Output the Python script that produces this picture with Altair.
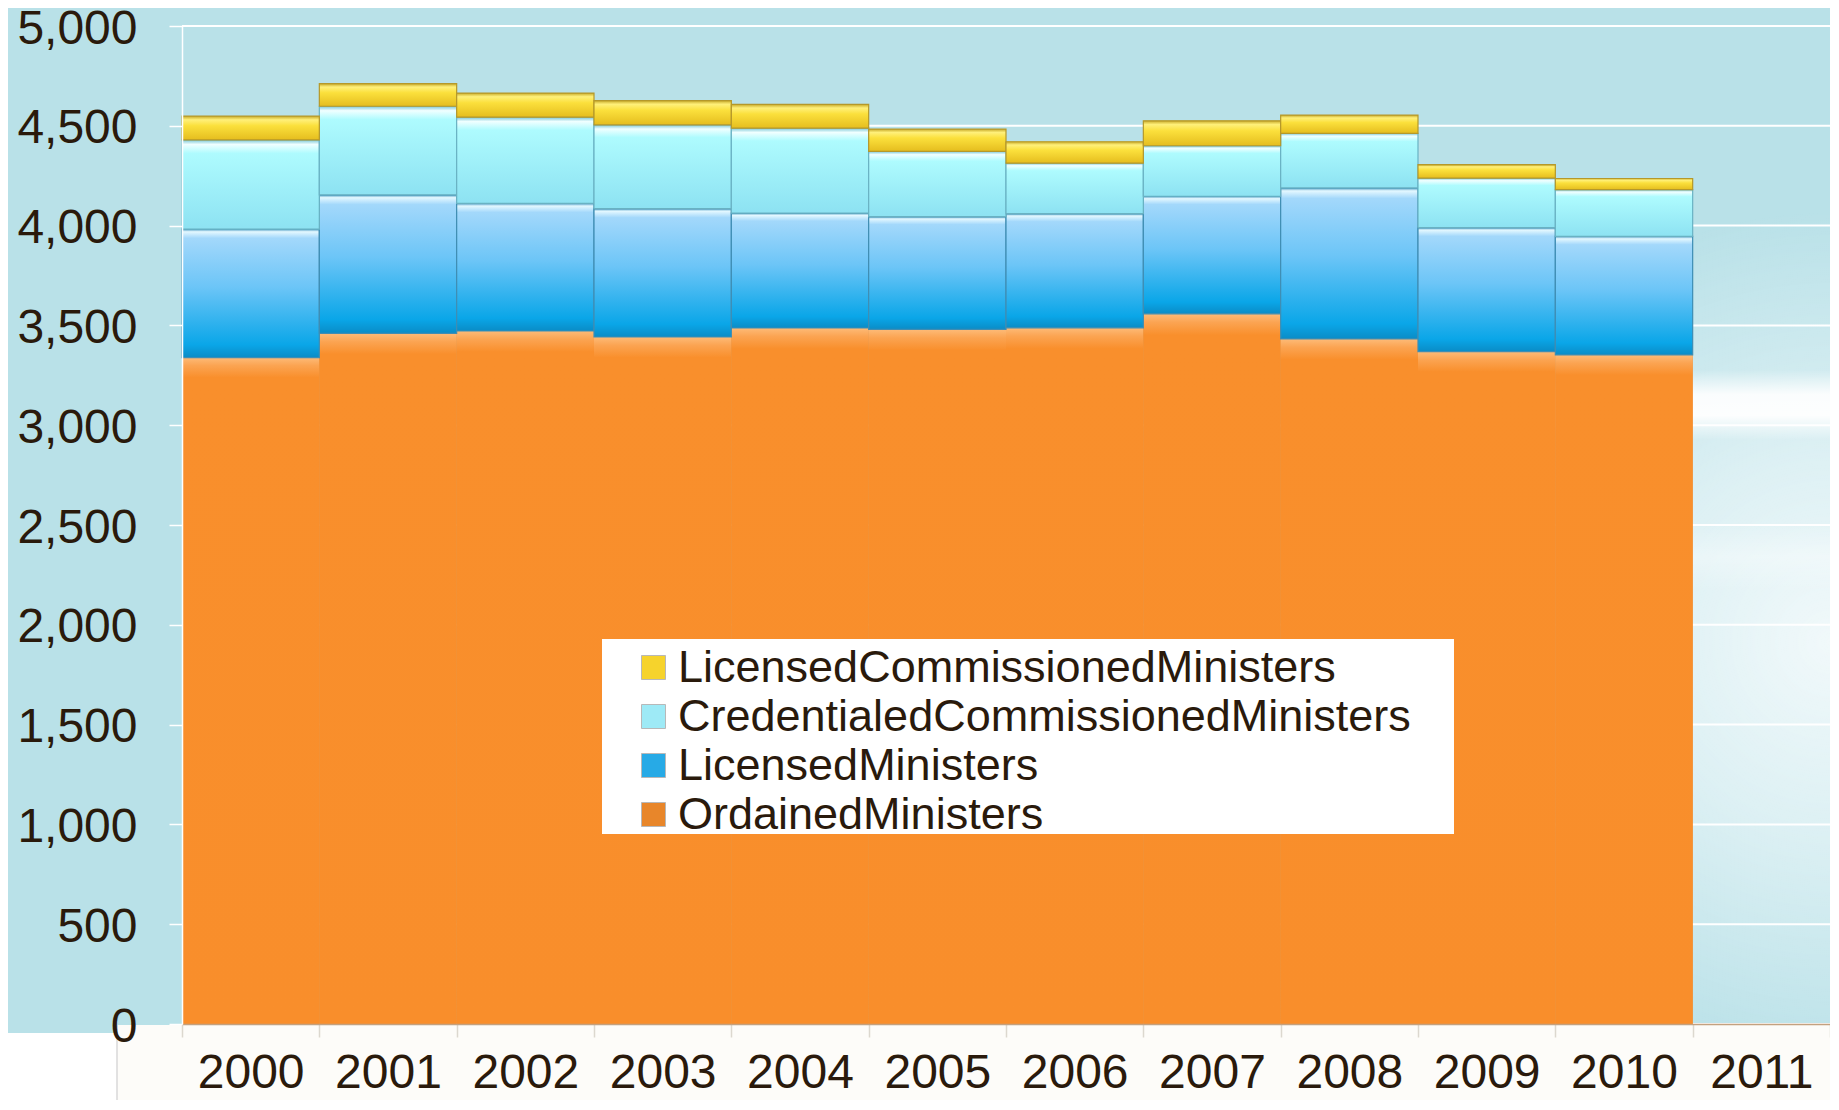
import altair as alt
import pandas as pd

# ---------------- data ----------------
years = ["2000", "2001", "2002", "2003", "2004", "2005",
         "2006", "2007", "2008", "2009", "2010", "2011"]
data_years = ["2000", "2001", "2002", "2003", "2004", "2005",
              "2006", "2007", "2008", "2009", "2010"]
ordained = [3339, 3460, 3472, 3442, 3487, 3480, 3488, 3558, 3432, 3369, 3352]
licensed = [643, 694, 639, 643, 576, 565, 572, 589, 757, 621, 594]
credentialed = [447, 444, 432, 420, 425, 327, 253, 253, 273, 248, 234]
lic_commissioned = [119, 113, 121, 121, 119, 111, 107, 125, 91, 67, 56]
series = ["LicensedCommissionedMinisters", "CredentialedCommissionedMinisters",
          "LicensedMinisters", "OrdainedMinisters"]
y_ticks = [0, 500, 1000, 1500, 2000, 2500, 3000, 3500, 4000, 4500, 5000]

values_by_series = {
    "OrdainedMinisters": ordained,
    "LicensedMinisters": licensed,
    "CredentialedCommissionedMinisters": credentialed,
    "LicensedCommissionedMinisters": lic_commissioned,
}
stack_order = {"OrdainedMinisters": 0, "LicensedMinisters": 1,
               "CredentialedCommissionedMinisters": 2, "LicensedCommissionedMinisters": 3}

rows = []
for i, yr in enumerate(data_years):
    for s in series:
        rows.append({"year": yr, "series": s, "value": values_by_series[s][i],
                     "order": stack_order[s]})
df = pd.DataFrame(rows)
ticks_df = pd.DataFrame({"v": y_ticks})
one = pd.DataFrame({"a": [0]})

# ---------------- styling ----------------
W, H = 1648, 998
FONT = "Liberation Sans"
TEXT = "#2a1a0c"
BG = "#b9e1e8"

x_axis = alt.Axis(title=None, labelFontSize=48, labelFont=FONT, labelColor=TEXT,
                  labelPadding=12, tickBand="extent", tickColor="#dcd8cf", tickSize=13,
                  tickWidth=1.5, domainColor="#c4a17f", domainWidth=1.5,
                  labelAngle=0, zindex=1, grid=False)
y_axis = alt.Axis(title=None, values=y_ticks, format=",d", labelFontSize=48, labelFont=FONT,
                  labelColor=TEXT, labelPadding=32, labelOffset=3, tickColor="white",
                  tickSize=13, tickWidth=1.5, domainColor="white", domainWidth=1.5,
                  grid=False, zindex=1)

x_enc = alt.X("year:N", scale=alt.Scale(domain=years, paddingInner=0, paddingOuter=0),
              axis=x_axis)
y_scale = alt.Scale(domain=[0, 5000], nice=False)


def lin(stops, horizontal=False):
    if horizontal:
        return alt.Gradient(gradient="linear", x1=0, x2=1, y1=0, y2=0,
                            stops=[alt.GradientStop(offset=o, color=c) for o, c in stops])
    return alt.Gradient(gradient="linear", x1=0, x2=0, y1=0, y2=1,
                        stops=[alt.GradientStop(offset=o, color=c) for o, c in stops])


fills = {
    "OrdainedMinisters": (lin([(0, "#fdbb78"), (0.012, "#fba452"), (0.03, "#f98f2c"),
                               (1, "#f98e2b")]), None),
    "LicensedMinisters": (lin([(0, "#4d9cc4"), (0.02, "#e4f8ff"), (0.07, "#a3d8fb"),
                               (0.45, "#6cc5f7"), (0.9, "#0aa6e8"), (1, "#0a8cc6")]), "#3f8db3"),
    "CredentialedCommissionedMinisters": (lin([(0, "#7cc7d6"), (0.05, "#f0ffff"),
                                               (0.15, "#aefbfe"), (1, "#8de2f2")]), "#69b2c3"),
    "LicensedCommissionedMinisters": (lin([(0, "#c9ab2a"), (0.15, "#fff07a"),
                                           (0.4, "#fbe03c"), (1, "#e5bd1e")]), "#b5982a"),
}

# ---------------- background decoration ----------------
glow = alt.Chart(one).mark_rect(
    fill=alt.Gradient(gradient="radial", x1=0.5, y1=0.5, r1=0, x2=0.5, y2=0.5, r2=0.5,
                      stops=[alt.GradientStop(offset=0, color="rgba(255,255,255,0.8)"),
                             alt.GradientStop(offset=0.45, color="rgba(255,255,255,0.5)"),
                             alt.GradientStop(offset=1, color="rgba(255,255,255,0)")])
).encode(x=alt.value(W - 430), x2=alt.value(W + 430),
         y=alt.value(616 - 430), y2=alt.value(616 + 430))

streak = alt.Chart(one).mark_rect(
    fill=lin([(0, "rgba(255,255,255,0)"), (0.35, "rgba(255,255,255,0.9)"),
              (0.65, "rgba(255,255,255,0.95)"), (1, "rgba(255,255,255,0)")])
).encode(x=alt.value(1300), x2=alt.value(W), y=alt.value(344), y2=alt.value(414))

diag = alt.Chart(one).mark_rect(
    fill=lin([(0, "rgba(255,255,255,0)"), (0.5, "rgba(255,255,255,0.35)"),
              (1, "rgba(255,255,255,0)")])
).encode(x=alt.value(1300), x2=alt.value(W), y=alt.value(496), y2=alt.value(566))

grid = alt.Chart(ticks_df).mark_rule(color="white", strokeWidth=2).encode(
    y=alt.Y("v:Q", scale=y_scale, axis=y_axis)
)

# ---------------- bars ----------------
stacked = alt.Chart(df).transform_stack(
    stack="value", groupby=["year"], as_=["y0", "y1"],
    sort=[alt.SortField("order", order="ascending")]
)

base_bars = stacked.mark_bar().encode(
    x=x_enc,
    y=alt.Y("y1:Q", scale=y_scale, axis=y_axis),
    y2="y0:Q",
    color=alt.Color("series:N",
                    scale=alt.Scale(domain=series,
                                    range=["#f6d32c", "#9eeaf6", "#27aae6", "#e8862a"]),
                    legend=alt.Legend(title=None, orient="none", legendX=449, legendY=619,
                                      padding=0, labelFontSize=45, labelFont=FONT,
                                      labelColor=TEXT, symbolType="square", symbolSize=576,
                                      symbolStrokeColor="#b8b8b8", symbolStrokeWidth=1,
                                      labelOffset=2, rowPadding=3, labelLimit=1200)),
)

overlays = []
for s in series[::-1]:
    f, stroke = fills[s]
    kw = dict(fill=f)
    if stroke:
        kw.update(stroke=stroke, strokeWidth=1.2)
    overlays.append(
        stacked.transform_filter(alt.datum.series == s).mark_bar(**kw).encode(
            x=x_enc,
            y=alt.Y("y1:Q", scale=y_scale, axis=y_axis),
            y2="y0:Q",
        )
    )

legend_box = alt.Chart(one).mark_rect(color="white").encode(
    x=alt.value(420), x2=alt.value(1272), y=alt.value(613), y2=alt.value(808)
)

bottom_a = alt.Chart(one).mark_rect(color="#fdfcf9").encode(
    x=alt.value(-65), x2=alt.value(W + 20), y=alt.value(H + 1), y2=alt.value(H + 200)
)
bottom_b = alt.Chart(one).mark_rect(color="white").encode(
    x=alt.value(-200), x2=alt.value(-65), y=alt.value(H + 9), y2=alt.value(H + 200)
)
bottom_line = alt.Chart(one).mark_rule(color="#d9d9d9", strokeWidth=1.5).encode(
    x=alt.value(-65), y=alt.value(H - 2), y2=alt.value(H + 200)
)

chart = alt.layer(
    glow, streak, diag, grid, base_bars, *overlays, legend_box,
    bottom_a, bottom_b, bottom_line
).properties(
    width=W, height=H,
    background=BG,
    autosize=alt.AutoSizeParams(type="none"),
    padding={"left": 174, "top": 18, "right": 0, "bottom": 76},
).configure_view(stroke=None)

chart.save("out.html", embed_options={"renderer": "svg", "actions": False})
